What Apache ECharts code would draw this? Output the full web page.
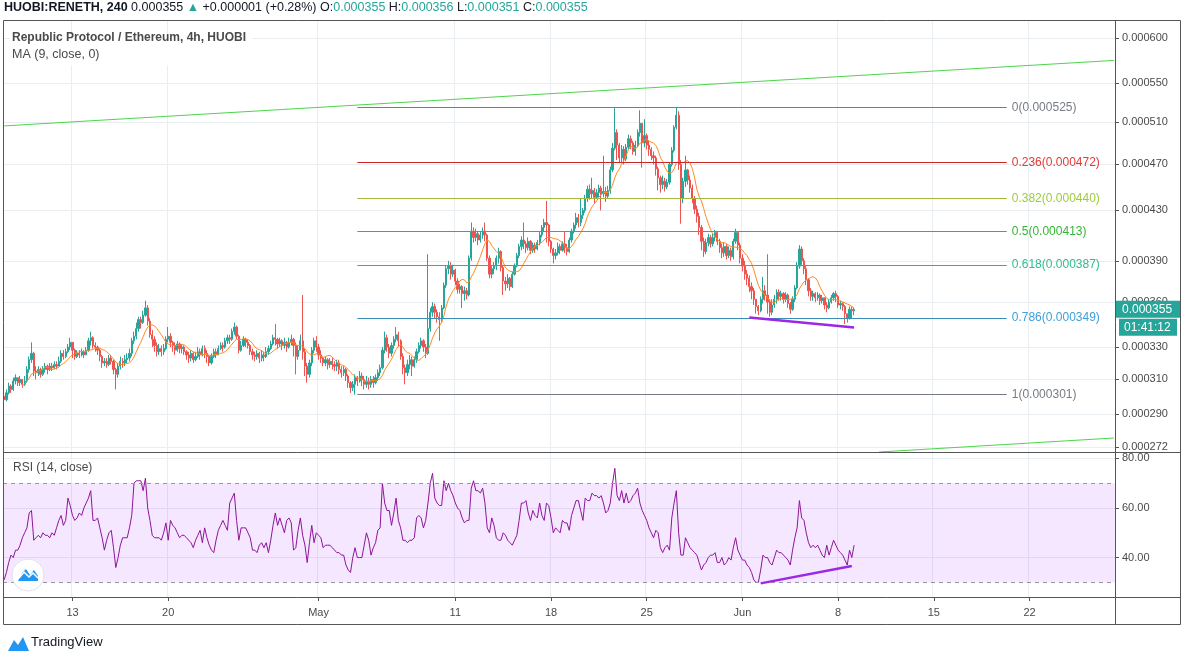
<!DOCTYPE html>
<html>
<head>
<meta charset="utf-8">
<title>HUOBI:RENETH 240</title>
<script src="https://cdn.jsdelivr.net/npm/echarts@6/dist/echarts.min.js"></script>
<style>
html, body { margin: 0; padding: 0; background: #fff; }
#chart { width: 1183px; height: 659px; }
</style>
</head>
<body>
<div id="chart"></div>
<script>
var FONT = '"Liberation Sans", Arial, sans-serif';

// 4h slots from 2020-04-08 00:00 UTC, prices in units of 0.000001 ETH
var startTime = Date.UTC(2020, 3, 8, 0, 0);
var slotCount = 488;
var firstOpen = 300;

var closes = [
    298, 302, 306, 304, 309, 311, 308, 310, 307, 309,
    316, 322, 326, 315, 314, 316, 313, 316, 318, 316,
    318, 317, 319, 318, 321, 326, 324, 327, 330, 333,
    328, 324, 326, 325, 327, 325, 328, 334, 336, 331,
    330, 328, 324, 320, 321, 319, 323, 321, 316, 313,
    318, 321, 320, 322, 323, 326, 334, 337, 342, 348,
    346, 351, 356, 347, 338, 335, 331, 327, 329, 327,
    329, 335, 337, 333, 331, 328, 332, 329, 330, 327,
    325, 323, 326, 322, 324, 327, 325, 329, 326, 324,
    320, 324, 327, 325, 329, 331, 330, 334, 336, 335,
    340, 343, 337, 328, 331, 335, 333, 331, 327, 325,
    324, 326, 323, 325, 324, 327, 329, 332, 336, 335,
    332, 334, 331, 333, 330, 333, 335, 331, 324, 328,
    334, 327, 318, 313, 320, 328, 334, 330, 325, 323,
    320, 322, 319, 321, 319, 318, 320, 316, 314, 316,
    312, 308, 305, 307, 311, 309, 312, 310, 307, 309,
    307, 310, 308, 311, 314, 317, 328, 336, 330, 326,
    331, 335, 338, 334, 324, 317, 314, 319, 322, 318,
    322, 327, 331, 334, 330, 326, 342, 353, 357, 353,
    350, 348, 356, 372, 384, 386, 380, 383, 375, 369,
    371, 366, 368, 365, 392, 413, 408, 411, 406, 410,
    413, 410, 392, 380, 384, 386, 392, 397, 385, 375,
    373, 377, 371, 380, 386, 394, 401, 406, 403, 400,
    405, 398, 402, 399, 404, 410, 416, 420, 418, 405,
    399, 394, 396, 401, 398, 403, 400, 397, 406, 413,
    418, 424, 420, 426, 430, 440, 448, 444, 447, 441,
    445, 449, 444, 446, 442, 447, 465, 485, 500, 488,
    476, 484, 475, 486, 494, 490, 482, 488, 500, 509,
    490, 497, 488, 484, 478, 476, 466, 458, 452, 455,
    450, 454, 470, 483, 505, 517, 470, 440, 455, 465,
    456, 449, 440, 431, 425, 416, 405, 397, 404, 408,
    403, 408, 412, 405, 400, 396, 401, 394, 398, 393,
    405, 412, 402, 392, 386, 380, 377, 371, 368, 362,
    357, 354, 362, 368, 365, 360, 353, 358, 362, 367,
    364, 366, 362, 365, 359, 355, 362, 370, 386, 399,
    390, 384, 376, 368, 364, 366, 363, 365, 361, 363,
    358, 356, 360, 363, 366, 364, 358, 359, 357, 352, 349, 355, 354, 355
];

var highs = [
    301, 304, 308, 307, 311, 313, 311, 312, 310, 312,
    318, 324, 333, 327, 318, 318, 317, 318, 320, 319,
    320, 320, 321, 321, 324, 328, 328, 329, 332, 336,
    333, 329, 328, 328, 329, 328, 330, 336, 340, 337,
    333, 331, 329, 325, 323, 323, 325, 325, 322, 317,
    320, 324, 323, 325, 326, 329, 336, 340, 346, 350,
    350, 354, 361, 358, 349, 341, 337, 333, 332, 331,
    332, 337, 343, 339, 334, 333, 334, 333, 332, 331,
    328, 327, 328, 327, 327, 330, 329, 331, 331, 328,
    325, 326, 329, 329, 331, 333, 333, 336, 338, 338,
    342, 346, 344, 338, 334, 337, 336, 335, 332, 329,
    327, 328, 327, 328, 327, 330, 331, 334, 338, 345,
    336, 336, 335, 336, 334, 336, 338, 336, 333, 331,
    338, 365, 329, 320, 322, 330, 336, 337, 332, 328,
    324, 324, 323, 323, 323, 321, 322, 322, 318, 318,
    317, 313, 309, 309, 313, 312, 315, 314, 312, 312,
    311, 312, 312, 313, 316, 319, 330, 340, 338, 332,
    333, 337, 343, 340, 335, 326, 319, 322, 325, 324,
    324, 329, 333, 336, 335, 332, 395, 356, 360, 359,
    355, 353, 358, 374, 386, 390, 389, 387, 384, 377,
    373, 372, 371, 370, 394, 420, 416, 415, 413, 413,
    416, 420, 411, 394, 386, 389, 394, 400, 398, 387,
    378, 380, 378, 382, 388, 396, 403, 409, 420, 405,
    408, 406, 404, 404, 406, 413, 418, 423, 438, 419,
    406, 400, 399, 404, 403, 405, 413, 403, 408, 415,
    420, 428, 427, 440, 432, 443, 451, 452, 458, 449,
    448, 452, 451, 478, 450, 451, 468, 490, 524, 503,
    490, 488, 487, 489, 498, 497, 492, 492, 503, 522,
    509, 513, 499, 492, 486, 482, 478, 468, 460, 460,
    458, 457, 472, 486, 507, 525, 521, 474, 458, 478,
    466, 460, 452, 442, 434, 428, 418, 408, 407, 411,
    410, 411, 414, 413, 407, 403, 404, 403, 401, 400,
    407, 415, 413, 404, 395, 390, 383, 379, 374, 370,
    362, 358, 364, 378, 372, 395, 362, 362, 365, 369,
    369, 368, 367, 367, 366, 360, 364, 372, 389, 402,
    401, 392, 386, 377, 370, 368, 367, 367, 366, 365,
    362, 360, 362, 365, 367, 368, 365, 361, 360, 358, 352, 357, 357, 356
];

var lows = [
    295, 297, 301, 302, 303, 307, 306, 306, 305, 306,
    308, 314, 320, 312, 310, 312, 311, 312, 314, 313,
    315, 315, 316, 316, 318, 320, 322, 323, 326, 328,
    323, 322, 323, 323, 324, 323, 325, 327, 331, 329,
    327, 325, 321, 317, 318, 317, 318, 319, 313, 304,
    311, 316, 317, 318, 320, 321, 324, 332, 335, 340,
    342, 345, 350, 344, 336, 330, 327, 324, 325, 324,
    325, 328, 333, 330, 327, 325, 327, 326, 326, 325,
    322, 320, 321, 320, 321, 323, 322, 324, 323, 320,
    318, 319, 323, 323, 325, 328, 327, 329, 332, 332,
    334, 338, 335, 326, 327, 330, 330, 329, 325, 322,
    321, 322, 320, 321, 321, 323, 325, 328, 331, 331,
    329, 330, 328, 329, 327, 329, 331, 324, 313, 322,
    328, 322, 312, 308, 311, 318, 326, 327, 322, 320,
    318, 318, 316, 317, 316, 315, 315, 313, 311, 312,
    309, 305, 302, 303, 301, 306, 308, 306, 304, 305,
    304, 305, 305, 307, 309, 312, 316, 326, 327, 323,
    324, 329, 333, 330, 322, 313, 307, 312, 316, 312,
    317, 320, 326, 329, 327, 323, 325, 340, 350, 349,
    346, 334, 346, 355, 370, 380, 376, 378, 372, 366,
    366, 356, 361, 362, 364, 390, 404, 405, 402, 404,
    407, 405, 390, 377, 377, 380, 383, 388, 382, 365,
    368, 370, 368, 370, 379, 385, 392, 398, 399, 396,
    398, 395, 396, 396, 398, 402, 408, 413, 404, 401,
    396, 388, 391, 394, 395, 397, 396, 394, 396, 404,
    411, 415, 416, 417, 423, 428, 437, 439, 440, 436,
    440, 441, 430, 441, 437, 440, 444, 463, 483, 474,
    471, 472, 470, 473, 484, 484, 479, 478, 486, 496,
    467, 486, 484, 478, 474, 470, 460, 447, 445, 448,
    446, 448, 452, 468, 481, 503, 465, 419, 436, 450,
    452, 445, 436, 427, 420, 410, 398, 393, 395, 401,
    400, 401, 405, 402, 396, 392, 393, 391, 392, 390,
    391, 403, 398, 388, 382, 376, 372, 367, 362, 358,
    352, 351, 353, 359, 361, 352, 350, 351, 356, 359,
    361, 361, 359, 360, 356, 352, 354, 360, 369, 384,
    387, 380, 372, 364, 361, 361, 360, 361, 358, 359,
    355, 353, 355, 359, 361, 360, 356, 355, 354, 345, 346, 348, 349, 351
];

var rsiValues = [
    31, 34, 38, 41, 40, 43, 43, 45, 48, 50,
    52, 58, 59, 47, 48, 49, 48, 50, 49, 49,
    48, 50, 49, 52, 55, 57, 53, 55, 64, 61,
    57, 55, 56, 58, 57, 60, 62, 64, 67, 55,
    55, 56, 52, 48, 43, 47, 50, 51, 44, 36,
    40, 45, 48, 48, 48, 52, 57, 70, 71, 71,
    71, 67, 72, 60, 55, 49, 48, 48, 48, 47,
    50, 54, 47, 55, 53, 52, 50, 48, 49, 49,
    48, 47, 46, 44, 47, 49, 51, 46, 52, 48,
    45, 43, 42, 47, 51, 53, 55, 53, 51, 62,
    64, 66, 55, 47, 52, 52, 52, 50, 48, 43,
    43, 42, 45, 46, 44, 46, 42, 47, 53, 58,
    53, 56, 53, 50, 55, 56, 54, 43, 44, 51,
    56, 49, 45, 38, 46, 53, 46, 50, 49, 48,
    44, 45, 45, 45, 44, 43, 42, 42, 41, 41,
    37, 35, 34, 40, 44, 40, 40, 40, 45, 50,
    47, 41, 44, 46, 51, 52, 70, 62, 59, 59,
    53, 58, 64, 55, 52, 47, 47, 46, 47, 47,
    48, 56, 57, 56, 52, 55, 62, 70, 74, 64,
    62, 61, 61, 71, 67, 70, 67, 65, 62, 60,
    59, 56, 54, 55, 55, 68, 71, 67, 67, 66,
    68, 62, 52, 50, 56, 53, 48, 47, 47, 50,
    49, 47, 46, 45, 47, 49, 55, 62, 62, 63,
    58, 55, 59, 57, 56, 62, 57, 55, 62, 61,
    56, 50, 52, 51, 50, 55, 54, 54, 51, 57,
    60, 63, 63, 59, 55, 64, 63, 63, 66, 65,
    65, 64, 65, 62, 58, 59, 62, 70, 76, 65,
    63, 67, 62, 66, 62, 63, 65, 66, 68, 62,
    59, 57, 55, 52, 50, 48, 51, 50, 44, 42,
    44, 45, 43, 56, 62, 67, 50, 41, 41, 48,
    46, 44, 43, 42, 41, 38, 35, 37, 38, 40,
    41, 41, 42, 38, 38, 40, 37, 38, 40, 39,
    44, 48, 43, 41, 39, 39, 37, 36, 34, 31,
    30, 30, 35, 41, 40, 40, 38, 37, 40, 43,
    42, 42, 41, 40, 39, 37, 43, 48, 52, 63,
    56, 55, 50, 46, 44, 45, 44, 45, 43, 41,
    40, 45, 41, 44, 47, 45, 43, 42, 41, 39, 37, 43, 40, 45
];

var dateTicks = [
    ['2020-04-13', '13'], ['2020-04-20', '20'], ['2020-05-01', 'May'],
    ['2020-05-11', '11'], ['2020-05-18', '18'], ['2020-05-25', '25'],
    ['2020-06-01', 'Jun'], ['2020-06-08', '8'], ['2020-06-15', '15'],
    ['2020-06-22', '22']
];
var priceTicks = [0.000272, 0.00029, 0.00031, 0.00033, 0.00036, 0.00039, 0.00043, 0.00047, 0.00051, 0.00055, 0.0006];
var rsiTicks = [40, 60, 80];

var fibLevels = ['0', '0.236', '0.382', '0.5', '0.618', '0.786', '1'];
var fibPrices = [0.000525, 0.000472, 0.000440, 0.000413, 0.000387, 0.000349, 0.000301];
var fibLineColors = ['#787b86', '#c62828', '#a3b83c', '#43b047', '#2bb38e', '#3a8db4', '#787b86'];
var fibLabelColors = ['#787b86', '#e53935', '#9ccc3a', '#35b535', '#2ebd8f', '#3f9fd9', '#787b86'];
var fibStart = 155, fibEnd = 440;

// [slot, price, slot, price]
var channelLines = [[0, 0.0005064, 487, 0.0005749], [384, 0.0002693, 487, 0.0002767]];
var priceDivergence = [327, 0.0003494, 373, 0.0003428];
var rsiDivergence = [332, 29.6, 372, 36.6];

function pad(n) { return n < 10 ? '0' + n : '' + n; }

var categories = [];
for (var s = 0; s < slotCount; s++) {
    var d = new Date(startTime + s * 4 * 3600 * 1000);
    categories.push(d.getUTCFullYear() + '-' + pad(d.getUTCMonth() + 1) + '-' + pad(d.getUTCDate()) + ' ' + pad(d.getUTCHours()) + ':00');
}
var tickLabelAt = {};
dateTicks.forEach(function (t) { tickLabelAt[t[0] + ' 00:00'] = t[1]; });
function isDateTick(index, value) {
    return tickLabelAt.hasOwnProperty(categories[index]);
}

var candles = [];
for (var i = 0; i < closes.length; i++) {
    var o = i === 0 ? firstOpen : closes[i - 1];
    var c = closes[i];
    var lo = Math.min(lows[i], o, c);
    var hi = Math.max(highs[i], o, c);
    candles.push([o * 1e-6, c * 1e-6, lo * 1e-6, hi * 1e-6]);
}

function movingAverage(values, n) {
    return values.map(function (v, i) {
        if (i < n - 1) return '-';
        var sum = 0;
        for (var j = i - n + 1; j <= i; j++) sum += values[j];
        return sum / n * 1e-6;
    });
}

function segment(seg, color, width) {
    return [
        { coord: [seg[0], seg[1]], lineStyle: { color: color, width: width, type: 'solid' }, label: { show: false } },
        { coord: [seg[2], seg[3]] }
    ];
}

var fibLines = fibPrices.map(function (p, k) {
    return [
        {
            coord: [fibStart, p],
            lineStyle: { color: fibLineColors[k], width: 1, type: 'solid' },
            label: {
                show: true, position: 'end', distance: 5,
                formatter: fibLevels[k] + '(' + p.toFixed(6) + ')',
                color: fibLabelColors[k], fontSize: 12, fontFamily: FONT
            }
        },
        { coord: [fibEnd, p] }
    ];
});

var gridColor = '#e9eef2';
var textColor = '#4a4a4a';

var chart = echarts.init(document.getElementById('chart'));

var overlay = [
    { type: 'rect', shape: { x: 3.5, y: 20.5, width: 1177, height: 604 }, style: { fill: 'none', stroke: '#555', lineWidth: 1 } },
    { type: 'line', shape: { x1: 1115.5, y1: 20, x2: 1115.5, y2: 625 }, style: { stroke: '#555', lineWidth: 1 } },
    { type: 'line', shape: { x1: 3, y1: 452.5, x2: 1181, y2: 452.5 }, style: { stroke: '#555', lineWidth: 1 } },
    { type: 'line', shape: { x1: 3, y1: 597.5, x2: 1181, y2: 597.5 }, style: { stroke: '#555', lineWidth: 1 } },
    {
        type: 'text', left: 4, top: 1,
        style: {
            text: '{b|HUOBI:RENETH, 240} {n|0.000355} {g|\u25B2} {n|+0.000001 (+0.28%)} {n|O:}{g|0.000355} {n|H:}{g|0.000356} {n|L:}{g|0.000351} {n|C:}{g|0.000355}',
            font: '12.5px ' + FONT,
            rich: {
                b: { fontWeight: 'bold', fontSize: 12.5, fontFamily: FONT, fill: '#131722', color: '#131722' },
                n: { fontSize: 12.5, fontFamily: FONT, fill: '#131722', color: '#131722' },
                g: { fontSize: 12.5, fontFamily: FONT, fill: '#26a69a', color: '#26a69a' }
            }
        }
    },
    { type: 'rect', shape: { x: 10, y: 34.5, width: 242, height: 31 }, style: { fill: 'rgba(255,255,255,0.9)' } },
    { type: 'text', left: 12, top: 32, style: { text: 'Republic Protocol / Ethereum, 4h, HUOBI', font: 'bold 12px ' + FONT, fill: '#4a4a4a' } },
    { type: 'text', left: 12, top: 48, style: { text: 'MA (9, close, 0)', font: '12.5px ' + FONT, fill: '#4a4a4a' } },
    { type: 'text', left: 13, top: 462, style: { text: 'RSI (14, close)', font: '12px ' + FONT, fill: '#4a4a4a' } },
    { type: 'circle', shape: { cx: 28, cy: 575, r: 16 }, style: { fill: '#ffffff', stroke: '#e0e3eb', lineWidth: 1 } },
    { type: 'polygon', shape: { points: [[18, 581], [22, 573], [26, 569], [30, 575], [34, 570], [38, 576], [38, 581]] }, style: { fill: '#2196f3' } },
    { type: 'polyline', shape: { points: [[19, 578], [24, 572], [29, 577], [33, 573], [38, 578]] }, style: { stroke: '#ffffff', lineWidth: 1.5, fill: 'none' } },
    { type: 'polygon', shape: { points: [[8, 651], [14, 640], [18, 645], [23, 637], [29, 651]] }, style: { fill: '#2196f3' } },
    { type: 'text', left: 31, top: 636, style: { text: 'TradingView', font: '13px ' + FONT, fill: '#131722' } }
];
overlay.forEach(function (g) { g.z = 100; g.silent = true; });

var option = {
    animation: false,
    backgroundColor: '#ffffff',
    textStyle: { fontFamily: FONT },
    grid: [
        { left: 3, top: 20, width: 1112, height: 432, outerBoundsMode: 'none' },
        { left: 3, top: 452, width: 1112, height: 145, outerBoundsMode: 'none' }
    ],
    xAxis: [
        {
            type: 'category', gridIndex: 0, data: categories, boundaryGap: true,
            axisLine: { show: false }, axisTick: { show: false }, axisLabel: { show: false },
            splitLine: { show: true, interval: isDateTick, lineStyle: { color: gridColor, width: 1 } }
        },
        {
            type: 'category', gridIndex: 1, data: categories, boundaryGap: true,
            axisLine: { show: false },
            axisTick: { show: true, interval: isDateTick, alignWithLabel: true, length: 4, lineStyle: { color: '#555' } },
            axisLabel: {
                show: true, interval: isDateTick, color: textColor, fontSize: 11, margin: 10,
                formatter: function (v) { return tickLabelAt[v] || ''; }
            },
            splitLine: { show: true, interval: isDateTick, lineStyle: { color: gridColor, width: 1 } }
        }
    ],
    yAxis: [
        {
            type: 'log', gridIndex: 0, position: 'right', logBase: 10,
            min: 0.0002693, max: 0.0006217,
            axisLine: { show: false },
            axisTick: { show: true, customValues: priceTicks, length: 4, lineStyle: { color: '#555' } },
            axisLabel: {
                show: true, customValues: priceTicks, color: textColor, fontSize: 11, margin: 7,
                formatter: function (v) { return Number(v).toFixed(6); }
            },
            splitLine: { show: true, lineStyle: { color: gridColor, width: 1 } }
        },
        {
            type: 'value', gridIndex: 1, position: 'right',
            min: 24.1, max: 82.6,
            axisLine: { show: false },
            axisTick: { show: true, customValues: rsiTicks, length: 4, lineStyle: { color: '#555' } },
            axisLabel: {
                show: true, customValues: rsiTicks, color: textColor, fontSize: 11, margin: 7,
                formatter: function (v) { return Number(v).toFixed(2); }
            },
            splitLine: { show: true, lineStyle: { color: gridColor, width: 1 } }
        }
    ],
    series: [
        {
            name: 'RENETH',
            type: 'candlestick',
            xAxisIndex: 0, yAxisIndex: 0,
            data: candles,
            barWidth: 1.7,
            itemStyle: {
                color: '#26a69a', color0: '#ef5350',
                borderColor: '#26a69a', borderColor0: '#ef5350', borderWidth: 1
            },
            markLine: {
                silent: true, symbol: ['none', 'none'], animation: false,
                data: fibLines.concat([segment(priceDivergence, '#9c27e6', 2.5)])
            }
        },
        {
            name: 'MA 9',
            type: 'line',
            xAxisIndex: 0, yAxisIndex: 0,
            data: movingAverage(closes, 9),
            showSymbol: false, smooth: false,
            lineStyle: { color: '#ff8a1f', width: 1 },
            markLine: {
                silent: true, symbol: ['none', 'none'], animation: false,
                data: channelLines.map(function (seg) { return segment(seg, '#4cd64c', 1); })
            }
        },
        {
            name: 'RSI',
            type: 'line',
            xAxisIndex: 1, yAxisIndex: 1,
            data: rsiValues,
            showSymbol: false,
            lineStyle: { color: '#8e1599', width: 1 },
            markArea: {
                silent: true,
                itemStyle: { color: 'rgba(153, 21, 255, 0.1)' },
                data: [[{ yAxis: 70 }, { yAxis: 30 }]]
            },
            markLine: {
                silent: true, symbol: ['none', 'none'], animation: false,
                label: { show: false },
                data: [
                    { yAxis: 70, lineStyle: { color: '#9598a1', type: [4, 4], width: 1 } },
                    { yAxis: 30, lineStyle: { color: '#9598a1', type: [4, 4], width: 1 } },
                    segment(rsiDivergence, '#9c27e6', 2.5)
                ]
            }
        }
    ],
    graphic: overlay
};

chart.setOption(option);

// last price and bar countdown labels on the price scale
var lastClose = closes[closes.length - 1] * 1e-6;
var lastY = chart.convertToPixel({ yAxisIndex: 0 }, lastClose);
var priceTags = [
    { type: 'rect', shape: { x: 1116, y: lastY - 8.5, width: 64, height: 17 }, style: { fill: '#26a69a' } },
    { type: 'text', x: 1122, y: lastY, style: { text: lastClose.toFixed(6), font: '12px ' + FONT, fill: '#ffffff', verticalAlign: 'middle' } },
    { type: 'rect', shape: { x: 1119, y: lastY + 9.5, width: 58, height: 17 }, style: { fill: '#26a69a' } },
    { type: 'text', x: 1124, y: lastY + 18, style: { text: '01:41:12', font: '12px ' + FONT, fill: '#ffffff', verticalAlign: 'middle' } }
];
priceTags.forEach(function (g) { g.z = 100; g.silent = true; });
chart.setOption({ graphic: overlay.concat(priceTags) });
</script>
</body>
</html>
